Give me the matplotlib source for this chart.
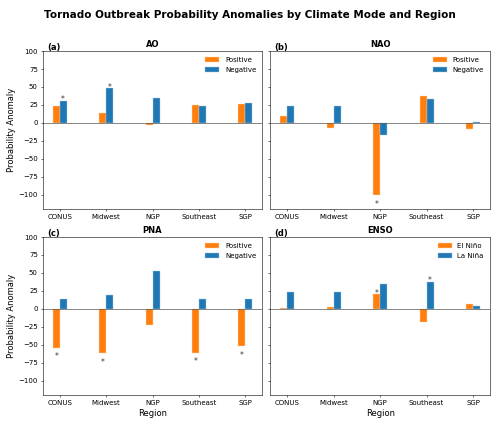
import numpy as np
import matplotlib
matplotlib.use('Agg')
import matplotlib.pyplot as plt

regions = ['CONUS', 'Midwest', 'NGP', 'Southeast', 'SGP']

modes = ['AO', 'NAO', 'PNA', 'ENSO']
panel_tags = ['(a)', '(b)', '(c)', '(d)']
labels_pos = ['Positive', 'Positive', 'Positive', 'El Niño']
labels_neg = ['Negative', 'Negative', 'Negative', 'La Niña']

# anomaly values per mode (positive / negative phase)
ao_pos = [23, 14, -3, 25, 26]
ao_neg = [31, 48, 35, 24, 27]
nao_pos = [9, -7, -100, 38, -8]
nao_neg = [24, 24, -17, 33, 1]
pna_pos = [-54, -62, -22, -61, -52]
pna_neg = [13, 19, 52, 13, 13]
enso_pos = [0.5, 2, 21, -18, 7]
enso_neg = [23, 23, 35, 38, 4]

# significance flags
ao_sig_pos = [0, 0, 0, 0, 0]
ao_sig_neg = [1, 1, 0, 0, 0]
nao_sig_pos = [0, 0, 1, 0, 0]
nao_sig_neg = [0, 0, 0, 0, 0]
pna_sig_pos = [1, 1, 0, 1, 1]
pna_sig_neg = [0, 0, 0, 0, 0]
enso_sig_pos = [0, 0, 1, 0, 0]
enso_sig_neg = [0, 0, 0, 1, 0]

pos_vals = [ao_pos, nao_pos, pna_pos, enso_pos]
neg_vals = [ao_neg, nao_neg, pna_neg, enso_neg]
pos_sig = [ao_sig_pos, nao_sig_pos, pna_sig_pos, enso_sig_pos]
neg_sig = [ao_sig_neg, nao_sig_neg, pna_sig_neg, enso_sig_neg]

plt.rcParams.update({'font.size': 10})

fig, axes = plt.subplots(2, 2, figsize=(10, 8.44), dpi=50, sharey=True)
plt.subplots_adjust(left=0.0854, right=0.98, top=0.879, bottom=0.064, wspace=0.036, hspace=0.177)

x = np.arange(len(regions))
w = 0.15


def star(ax, xpos, val):
    # significance marker just beyond the bar end
    if val >= 0:
        ax.text(xpos, val + 1, '*', ha='center', va='center', fontsize=11, color='#333333')
    else:
        ax.text(xpos, val - 13, '*', ha='center', va='center', fontsize=11, color='#333333')


for i, ax in enumerate(axes.flat):
    ax.bar(x - w / 2, pos_vals[i], w, color='#ff7f0e', edgecolor='#ffd9b0', linewidth=0.6, label=labels_pos[i])
    ax.bar(x + w / 2, neg_vals[i], w, color='#1f77b4', edgecolor='#a9cbe6', linewidth=0.6, label=labels_neg[i])
    ax.axhline(0, color='#555555', linewidth=1)
    for j in range(len(regions)):
        if pos_sig[i][j]:
            star(ax, x[j] - w / 2, pos_vals[i][j])
        if neg_sig[i][j]:
            star(ax, x[j] + w / 2, neg_vals[i][j])
    ax.set_xticks(x)
    ax.set_xticklabels(regions)
    ax.set_ylim(-120, 100)
    ax.set_title(modes[i], fontweight='bold', fontsize=12)
    ax.text(0.02, 1.025, panel_tags[i], transform=ax.transAxes, fontweight='bold', fontsize=12,
            va='center', ha='left')
    ax.legend(loc='upper right', frameon=False, fontsize=10)
    if i % 2 == 0:
        ax.set_ylabel('Probability Anomaly', fontsize=12)
    if i >= 2:
        ax.set_xlabel('Region', fontsize=12)

fig.suptitle('Tornado Outbreak Probability Anomalies by Climate Mode and Region',
             fontweight='bold', fontsize=15, y=0.976)

plt.savefig('out.png', dpi=50)
